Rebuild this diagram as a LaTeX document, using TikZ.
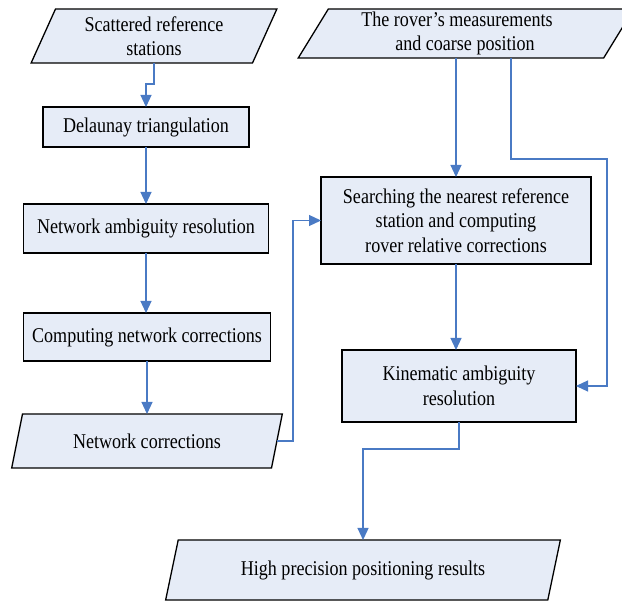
\documentclass[tikz,border=0pt]{standalone}
\usepackage{fontspec}
\setmainfont[FakeStretch=0.86]{Liberation Serif}
\usetikzlibrary{shapes.geometric,arrows.meta,calc}
\definecolor{boxfill}{RGB}{230,236,247}
\definecolor{flowblue}{RGB}{74,122,196}
\tikzset{
	box/.style={draw=black, line width=1.3pt, fill=boxfill, inner sep=0pt, outer sep=0pt,
		align=center, font=\fontsize{21}{24.5}\selectfont},
	datain/.style={box, trapezium, trapezium left angle=66.5, trapezium right angle=113.5,
		trapezium stretches=true},
	flow/.style={draw=flowblue, line width=1.2pt, -{Triangle[length=12pt,width=11pt]}}
}
\begin{document}
\begin{tikzpicture}[x=1pt,y=-1pt]
	\useasboundingbox (0,0) rectangle (622,601);
	% network side
	\node[datain, minimum width=246pt, minimum height=54pt] (stations) at (154,36) {Scattered reference\\stations};
	\node[box, minimum width=206pt, minimum height=40pt] (delaunay) at (146,127) {Delaunay triangulation};
	\node[box, minimum width=245pt, minimum height=49pt] (netamb) at (146,228.5) {Network ambiguity resolution};
	\node[box, minimum width=247pt, minimum height=48pt] (netcomp) at (147,337) {Computing network corrections};
	\node[datain, minimum width=271pt, minimum height=54pt] (netcorr) at (147,441) {Network corrections};
	% rover side
	\node[datain, minimum width=336pt, minimum height=49pt] (rover) at (466,33.5) {\hspace*{-18pt}The rover’s measurements\\\hspace*{-2pt}and coarse position};
	\node[box, minimum width=270pt, minimum height=87pt] (search) at (456,220.5) {Searching the nearest reference\\station and computing\\rover relative corrections};
	\node[box, minimum width=234pt, minimum height=72pt] (kinamb) at (459,386) {Kinematic ambiguity\\resolution};
	\node[datain, minimum width=395pt, minimum height=60pt] (result) at (363,570) {High precision positioning results};
	\coordinate (side) at (607,159);
	\coordinate (jog) at (293,0);
	\coordinate (corrout) at ($(netcorr.top right corner)!0.5!(netcorr.bottom right corner)$);
	% flow
	\draw[flow] (stations.south) -- ++(0,21) -| (delaunay.north);
	\draw[flow] (delaunay.south) -- (delaunay.south |- netamb.north);
	\draw[flow] (netamb.south) -- (netamb.south |- netcomp.north);
	\draw[flow] (netcomp.south) -- (netcomp.south |- netcorr.north);
	\draw[flow] (corrout) -- (corrout -| jog) |- (search.west);
	\draw[flow] (search.north |- rover.south) -- (search.north);
	\draw[flow] ([xshift=45pt]rover.south) |- (side) |- (kinamb.east);
	\draw[flow] (search.south) -- (search.south |- kinamb.north);
	\draw[flow] (kinamb.south) -- ++(0,27) -| (result.north);
\end{tikzpicture}
\end{document}
